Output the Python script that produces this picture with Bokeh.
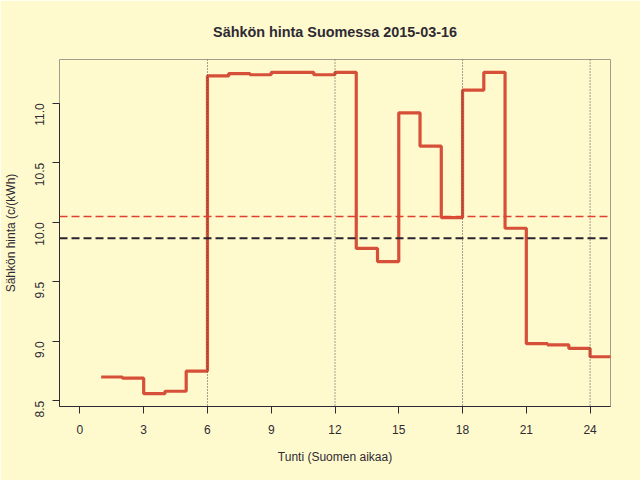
import numpy as np
from bokeh.plotting import figure
from bokeh.models import Range1d, Span, FixedTicker, PrintfTickFormatter
from bokeh.embed import file_html
from bokeh.resources import INLINE

# Data
hours = list(range(1, 25))
prices = [8.70, 8.69, 8.56, 8.58, 8.75, 11.23, 11.25, 11.24, 11.26, 11.26,
          11.24, 11.26, 9.78, 9.67, 10.92, 10.64, 10.04, 11.11, 11.26, 9.95,
          8.98, 8.97, 8.94, 8.87]
reference_price = 9.865
day_mean = float(np.mean(prices))
grid_hours = [6, 12, 18, 24]
x_ticks = [0, 3, 6, 9, 12, 15, 18, 21, 24]
y_ticks = [8.5, 9.0, 9.5, 10.0, 10.5, 11.0]

BG = "#FFFACD"
DARK = "#2E2A33"
FONT = "Liberation Sans"

# step line: each hour's price lasts until the next hour
step_x = hours + [hours[-1] + 1]
step_y = prices + [prices[-1]]

ymin, ymax = min(prices), max(prices)
pad = 0.04 * (ymax - ymin)

p = figure(width=640, height=480, output_backend="svg", toolbar_location=None,
           x_range=Range1d(-0.96, 24.96), y_range=Range1d(ymin - pad, ymax + pad),
           min_border_left=59, min_border_right=30, min_border_top=59, min_border_bottom=74)

p.background_fill_color = BG
p.border_fill_color = BG
p.outline_line_color = "#A39D8C"
p.outline_line_width = 1
p.grid.visible = False

p.title.text = "Sähkön hinta Suomessa 2015-03-16"
p.title.align = "center"
p.title.text_font = FONT
p.title.text_font_size = "14.4px"
p.title.text_font_style = "bold"
p.title.text_color = DARK
p.title.standoff = 40

for ax in (p.xaxis[0], p.yaxis[0]):
    ax.axis_line_color = DARK
    ax.major_tick_line_color = DARK
    ax.minor_tick_line_color = None
    ax.major_tick_out = 7
    ax.major_tick_in = 0
    ax.major_label_text_font = FONT
    ax.major_label_text_font_size = "12px"
    ax.major_label_text_color = DARK
    ax.axis_label_text_font = FONT
    ax.axis_label_text_font_size = "12px"
    ax.axis_label_text_font_style = "normal"
    ax.axis_label_text_color = DARK

p.xaxis.ticker = FixedTicker(ticks=x_ticks)
p.xaxis.axis_label = "Tunti (Suomen aikaa)"
p.xaxis.major_label_standoff = 11
p.xaxis.axis_label_standoff = 13

p.yaxis.ticker = FixedTicker(ticks=y_ticks)
p.yaxis.formatter = PrintfTickFormatter(format="%.1f")
p.yaxis.bounds = (ymin - pad, 11.0)
p.yaxis.axis_label = "Sähkön hinta (c/(kWh)"
p.yaxis.major_label_orientation = np.pi / 2
p.yaxis.major_label_standoff = 13
p.yaxis.axis_label_standoff = 10

for h in grid_hours:
    p.add_layout(Span(location=h, dimension="height", line_color="#4A4744",
                      line_width=1, line_dash="1 2"))

p.add_layout(Span(location=day_mean, dimension="width", line_color="#E0402F",
                  line_width=1.5, line_dash="8 4"))
p.add_layout(Span(location=reference_price, dimension="width", line_color="#2A2530",
                  line_width=2, line_dash="8 4"))

p.step(step_x, step_y, mode="after", line_color="#D64F38", line_width=3.2)

open("out.html", "w").write(file_html(p, INLINE))
